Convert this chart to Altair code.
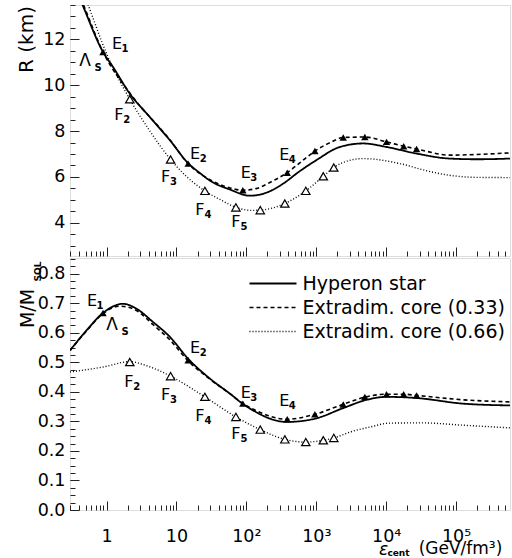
import altair as alt
import pandas as pd

# ---------------- data (x = central energy density, GeV/fm^3) ----------------
series_names = ["Hyperon star", "Extradim. core (0.33)", "Extradim. core (0.66)"]

# Radius panel
hyp_R_x = [0.3, 0.454, 0.89, 1.24, 2.15, 4.17, 8.05, 14.7, 21.6, 30, 58, 112, 200, 337, 562, 1000, 2190, 4680, 10000, 27000, 81000, 2.0e5, 5.9e5]
hyp_R = [14.8, 13.5, 11.45, 10.79, 9.63, 8.61, 7.6, 6.6, 6.17, 5.84, 5.45, 5.18, 5.33, 5.71, 6.22, 6.73, 7.31, 7.46, 7.31, 7.02, 6.80, 6.77, 6.80]
c33_R_x = [0.3, 0.454, 0.89, 2.15, 8.05, 14.7, 30, 58, 90, 141, 224, 380, 631, 955, 1585, 2430, 4950, 10100, 17800, 27200, 81000, 2.0e5, 5.9e5]
c33_R = [14.9, 13.6, 11.45, 9.66, 7.62, 6.58, 5.88, 5.52, 5.42, 5.5, 5.78, 6.18, 6.7, 7.13, 7.5, 7.72, 7.74, 7.53, 7.34, 7.22, 6.95, 6.98, 7.05]
c66_R_x = [0.3, 0.546, 1.0, 2.15, 4.17, 8.24, 14.1, 25.5, 44.7, 70.8, 120, 158, 355, 708, 1260, 1780, 2820, 4680, 15800, 40000, 81000, 2.0e5, 5.9e5]
c66_R = [15.6, 13.5, 11.38, 9.39, 8.0, 6.76, 6.0, 5.39, 4.97, 4.67, 4.54, 4.55, 4.84, 5.39, 6.03, 6.41, 6.7, 6.80, 6.58, 6.25, 6.07, 5.98, 5.97]

# Mass panel
hyp_M_x = [0.3, 0.517, 0.89, 1.73, 2.69, 4.64, 8.05, 14.7, 30, 58, 88, 141, 219, 376, 955, 2430, 5250, 10000, 27200, 1.26e5, 5.9e5]
hyp_M = [0.54, 0.608, 0.667, 0.698, 0.681, 0.636, 0.586, 0.512, 0.445, 0.394, 0.36, 0.33, 0.309, 0.298, 0.309, 0.345, 0.373, 0.383, 0.379, 0.36, 0.354]
c33_M_x = [0.3, 0.517, 0.89, 1.58, 2.82, 4.64, 8.05, 14.7, 30, 58, 88, 158, 380, 955, 2380, 5130, 9900, 17500, 27200, 1.26e5, 5.9e5]
c33_M = [0.54, 0.606, 0.665, 0.69, 0.672, 0.627, 0.576, 0.505, 0.443, 0.394, 0.362, 0.33, 0.307, 0.324, 0.357, 0.383, 0.392, 0.392, 0.388, 0.373, 0.366]
c66_M_x = [0.3, 0.89, 2.15, 4.0, 8.24, 25.5, 70.8, 158, 355, 708, 1260, 1780, 3160, 5890, 11200, 31600, 1.26e5, 5.9e5]
c66_M = [0.467, 0.484, 0.502, 0.486, 0.453, 0.383, 0.315, 0.272, 0.239, 0.23, 0.236, 0.244, 0.265, 0.281, 0.294, 0.295, 0.287, 0.278]

# Marked configurations
E_x = [0.89, 14.7, 89, 384, 955, 2430, 4950, 10100, 17800, 27200]
E_R = [11.45, 6.58, 5.42, 6.18, 7.13, 7.72, 7.74, 7.53, 7.34, 7.22]
E_M = [0.667, 0.507, 0.36, 0.307, 0.324, 0.357, 0.383, 0.392, 0.392, 0.388]
F_x = [2.15, 8.24, 25.5, 70.8, 158, 355, 708, 1260, 1780]
F_R = [9.39, 6.76, 5.39, 4.67, 4.55, 4.84, 5.39, 6.03, 6.41]
F_M = [0.501, 0.453, 0.383, 0.315, 0.272, 0.239, 0.230, 0.236, 0.244]

# point labels: (letter, subscript, index into E/F, which set)
label_names = [("E", "1", 0, "E"), ("E", "2", 1, "E"), ("E", "3", 2, "E"), ("E", "4", 3, "E"),
               ("F", "2", 0, "F"), ("F", "3", 1, "F"), ("F", "4", 2, "F"), ("F", "5", 3, "F"),
               ("Λ", "S", 0, "E")]
# pixel offsets of the labels from their marker (top panel, bottom panel)
top_offsets = [(14, -8), (7, -10), (3, -17), (-3, -18), (-11, 16), (-5, 18), (-5, 19), (0, 15), (-18, 9)]
bot_offsets = [(-11, -12), (7, -12), (3, -11), (-3, -18), (-1, 20), (-5, 19), (-5, 19), (0, 17), (9, 12)]

# axes
x_ticks = [1, 10, 100, 1000, 10000, 100000]
x_tick_labels = ["1", "10", "10²", "10³", "10⁴", "10⁵"]
x_minor = [m * 10.0 ** d for d in range(-1, 6) for m in range(2, 10) if 0.3 <= m * 10.0 ** d <= 5.9e5]
R_ticks = [4, 6, 8, 10, 12]
R_minor = [3, 3.5, 4, 4.5, 5, 5.5, 6, 6.5, 7, 7.5, 8, 8.5, 9, 9.5, 10, 10.5, 11, 11.5, 12, 12.5, 13, 13.5]
M_ticks = [0, 0.1, 0.2, 0.3, 0.4, 0.5, 0.6, 0.7, 0.8]
M_minor = [i * 0.025 for i in range(35)]

x_domain = [0.3, 5.9e5]
R_domain = [2.55, 13.5]
M_domain = [0, 0.853]

FONT = "DejaVu Sans"
W = 440


def lines_df(xs, ys):
    rows = []
    for name, xx, yy in zip(series_names, xs, ys):
        for a, b in zip(xx, yy):
            rows.append({"series": name, "x": a, "v": b})
    return pd.DataFrame(rows)


xscale = alt.Scale(type="log", domain=x_domain, nice=False)
dash_scale = alt.Scale(domain=series_names, range=[[1, 0], [4, 3], [1, 2]])
width_scale = alt.Scale(domain=series_names, range=[1.8, 1.4, 1.3])

label_expr = " : ".join(
    f"datum.value == {v} ? '{t}'" for v, t in zip(x_ticks, x_tick_labels)) + " : ''"


def axis_major(values, labels=True, **kw):
    return alt.Axis(values=values, tickSize=9, offset=-9, domain=False, grid=False,
                    labels=labels, tickColor="#222", tickWidth=1,
                    labelFont=FONT, labelFontSize=17.5, labelColor="black",
                    labelOverlap=False, **kw)


def axis_minor(values, **kw):
    return alt.Axis(values=values, tickSize=5, offset=-5, domain=False, grid=False,
                    labels=False, tickColor="#222", tickWidth=1, **kw)


def label_layers(evals, fvals, offsets, yscale, xax_extra):
    layers = []
    for k, ((letter, sub, idx, which), (dx, dy)) in enumerate(zip(label_names, offsets)):
        xv = E_x[idx] if which == "E" else F_x[idx]
        yv = evals[idx] if which == "E" else fvals[idx]
        big = letter == "Λ"
        df = pd.DataFrame({"x": [xv], "v": [yv], "t": [letter], "s": [sub]})
        xax = xax_extra if k == 0 else None
        layers.append(alt.Chart(df).mark_text(
            font=FONT, fontSize=17 if big else 16, color="black", align="center",
            baseline="middle", dx=dx, dy=dy).encode(
            x=alt.X("x:Q", scale=xscale, axis=xax),
            y=alt.Y("v:Q", scale=yscale, axis=None),
            text="t:N"))
        layers.append(alt.Chart(df).mark_text(
            font=FONT, fontSize=10, fontWeight="bold", color="black", align="center",
            baseline="middle", dx=dx + (13 if big else 8), dy=dy + (7 if big else 5)).encode(
            x=alt.X("x:Q", scale=xscale, axis=None),
            y=alt.Y("v:Q", scale=yscale, axis=None),
            text="s:N"))
    return layers


def panel(lx, ly, evals, fvals, offsets, yscale, yax_major, yax_minor,
          xax_major, xax_minor, xax_extra, legend, h):
    ldf = lines_df(lx, ly)
    lines = alt.Chart(ldf).mark_line(interpolate="monotone", clip=True, color="black").encode(
        x=alt.X("x:Q", scale=xscale, axis=xax_major),
        y=alt.Y("v:Q", scale=yscale, axis=yax_major),
        strokeDash=alt.StrokeDash("series:N", scale=dash_scale, legend=legend),
        strokeWidth=alt.StrokeWidth("series:N", scale=width_scale, legend=None),
    )
    edf = pd.DataFrame({"x": E_x, "v": evals})
    fdf = pd.DataFrame({"x": F_x, "v": fvals})
    emk = alt.Chart(edf).mark_point(shape="triangle-up", filled=True, color="black",
                                    size=55, opacity=1).encode(
        x=alt.X("x:Q", scale=xscale, axis=xax_minor),
        y=alt.Y("v:Q", scale=yscale, axis=yax_minor),
    )
    fmk = alt.Chart(fdf).mark_point(shape="triangle-up", filled=True, fill="white",
                                    stroke="black", strokeWidth=1.2, size=70, opacity=1).encode(
        x=alt.X("x:Q", scale=xscale, axis=None),
        y=alt.Y("v:Q", scale=yscale, axis=None),
    )
    layers = [lines, emk, fmk] + label_layers(evals, fvals, offsets, yscale, xax_extra)
    return alt.layer(*layers).resolve_axis(
        x="independent", y="independent").properties(width=W, height=h)


# ---------- top panel: radius ----------
top = panel(
    [hyp_R_x, c33_R_x, c66_R_x], [hyp_R, c33_R, c66_R], E_R, F_R, top_offsets,
    alt.Scale(domain=R_domain, nice=False, zero=False),
    axis_major(R_ticks, orient="left", labelPadding=5, title="R (km)",
               titleFont=FONT, titleFontSize=20, titleFontWeight="normal", titleColor="black",
               titleAngle=270, titleAlign="center", titleBaseline="middle",
               titleX=-53, titleY=34),
    axis_minor(R_minor, orient="left", title=None),
    axis_major(x_ticks, labels=False, orient="bottom", title=None),
    axis_minor(x_minor, orient="bottom", title=None),
    None,
    None,
    251,
)

# ---------- bottom panel: mass ----------
legend = alt.Legend(orient="none", legendX=193.5, legendY=16, title=None,
                    symbolType="M-4.7,0H4.7", symbolSize=100, symbolStrokeWidth=1.5,
                    symbolStrokeColor="black", symbolFillColor="transparent",
                    labelFont=FONT, labelFontSize=19,
                    labelColor="black", labelOffset=20, labelLimit=400,
                    padding=0, rowPadding=4)

bottom = panel(
    [hyp_M_x, c33_M_x, c66_M_x], [hyp_M, c33_M, c66_M], E_M, F_M, bot_offsets,
    alt.Scale(domain=M_domain, nice=False, zero=False),
    axis_major(M_ticks, orient="left", labelPadding=5, title="M/M",
               titleFont=FONT, titleFontSize=19, titleFontWeight="normal", titleColor="black",
               titleAngle=270, titleAlign="center", titleBaseline="middle",
               titleX=-52, titleY=50),
    axis_minor(M_minor, orient="left", title="SOL",
               titleFont=FONT, titleFontSize=9, titleFontWeight="bold", titleColor="black",
               titleAngle=270, titleAlign="center", titleBaseline="middle",
               titleX=-38, titleY=13),
    axis_major(x_ticks, orient="bottom", labelPadding=17, labelExpr=label_expr,
               title="(GeV/fm³)", titleFont=FONT, titleFontSize=17, titleFontWeight="normal",
               titleColor="black", titleAlign="center", titleBaseline="middle",
               titleX=390, titleY=47),
    axis_minor(x_minor, orient="bottom", title="ε",
               titleFont=FONT, titleFontSize=17, titleFontStyle="italic", titleFontWeight="normal",
               titleColor="black", titleAlign="center", titleBaseline="middle",
               titleX=313, titleY=44),
    alt.Axis(orient="bottom", ticks=False, labels=False, domain=False, grid=False,
             title="cent", titleFont=FONT, titleFontSize=9, titleFontWeight="bold",
             titleColor="black", titleAlign="center", titleBaseline="middle",
             titleX=328, titleY=42),
    legend,
    252,
)

chart = alt.vconcat(top, bottom, spacing=0).resolve_scale(
    strokeDash="independent", strokeWidth="independent"
).resolve_legend(strokeDash="independent", strokeWidth="independent").properties(
    padding={"left": 15, "top": 4, "right": 1, "bottom": 0}
).configure_view(stroke="#222", strokeWidth=1.6).configure(background="white")

chart.save("out.html", embed_options={"renderer": "svg", "actions": False})
